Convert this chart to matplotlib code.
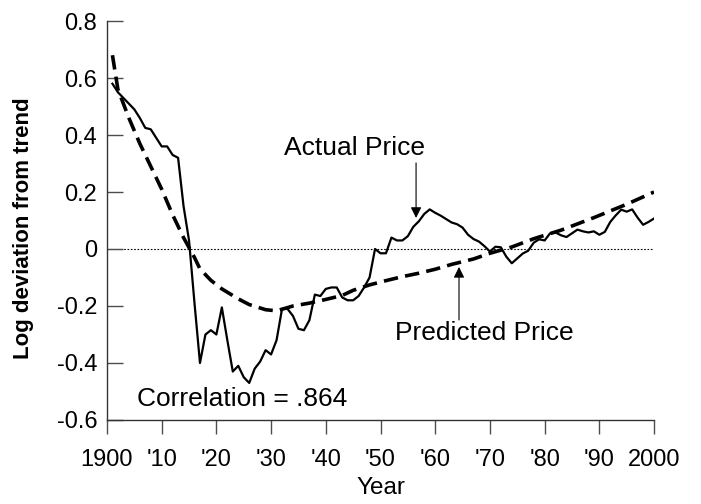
import matplotlib
matplotlib.use("Agg")
import matplotlib.pyplot as plt

plt.rcParams['font.family'] = ['Liberation Sans', 'DejaVu Sans']

# actual price, log deviation from trend (annual)
actual_years = list(range(1901, 2001))
actual_vals = [0.58, 0.55, 0.53, 0.51, 0.49, 0.46, 0.425, 0.42, 0.39, 0.36,
               0.36, 0.33, 0.32, 0.15, 0.03, -0.19, -0.40, -0.30, -0.285, -0.30,
               -0.205, -0.32, -0.43, -0.41, -0.45, -0.47, -0.42, -0.395, -0.355, -0.37,
               -0.32, -0.21, -0.21, -0.235, -0.28, -0.285, -0.25, -0.16, -0.165, -0.14,
               -0.135, -0.135, -0.17, -0.18, -0.18, -0.165, -0.135, -0.10, 0.0, -0.015,
               -0.015, 0.04, 0.03, 0.03, 0.045, 0.078, 0.097, 0.123, 0.139, 0.127,
               0.117, 0.105, 0.093, 0.087, 0.075, 0.05, 0.035, 0.026, 0.01, -0.009,
               0.008, 0.006, -0.027, -0.05, -0.033, -0.016, -0.006, 0.022, 0.034, 0.03,
               0.055, 0.058, 0.048, 0.042, 0.055, 0.068, 0.062, 0.058, 0.062, 0.05,
               0.06, 0.095, 0.118, 0.138, 0.131, 0.139, 0.11, 0.085, 0.095, 0.107]

# predicted price (smooth)
pred_years = [1901, 1902, 1904, 1906, 1908, 1910, 1912, 1914, 1916, 1917, 1919, 1921,
              1924, 1926, 1929, 1931, 1934, 1937, 1940, 1943, 1945, 1948, 1951, 1954,
              1957, 1960, 1963, 1967, 1970, 1974, 1978, 1983, 1989, 1995, 2000]
pred_vals = [0.68, 0.56, 0.46, 0.37, 0.29, 0.21, 0.12, 0.04, -0.03, -0.07, -0.11, -0.14,
             -0.175, -0.195, -0.213, -0.217, -0.20, -0.19, -0.177, -0.163, -0.145, -0.126, -0.111, -0.097,
             -0.085, -0.071, -0.054, -0.035, -0.015, 0.007, 0.036, 0.066, 0.11, 0.157, 0.20]

xticks = [1900, 1910, 1920, 1930, 1940, 1950, 1960, 1970, 1980, 1990, 2000]
xlabels = ['1900', "'10", "'20", "'30", "'40", "'50", "'60", "'70", "'80", "'90", '2000']
yticks = [-0.6, -0.4, -0.2, 0, 0.2, 0.4, 0.6, 0.8]
ylabels = ['-0.6', '-0.4', '-0.2', '0', '0.2', '0.4', '0.6', '0.8']

fig = plt.figure(figsize=(7.01, 5.04), dpi=100)
ax = fig.add_axes([0.1526, 0.1667, 0.7804, 0.7916])

ax.axhline(0, color='black', lw=0.8, linestyle=(0, (1.5, 1.5)), zorder=1)
ax.plot(actual_years, actual_vals, color='black', lw=1.6, zorder=3)
ax.plot(pred_years, pred_vals, color='black', lw=2.6, linestyle=(0, (4, 2)), zorder=2)

ax.set_xlim(1900, 2000)
ax.set_ylim(-0.6, 0.8)
ax.set_xticks(xticks)
ax.set_xticklabels(xlabels, fontsize=17)
ax.set_yticks(yticks)
ax.set_yticklabels(ylabels, fontsize=17)
ax.tick_params(axis='x', direction='out', length=10, width=1, color='0.3', pad=11)
ax.tick_params(axis='y', direction='in', length=11.5, width=1, color='0.3', pad=7)
for s in ['top', 'right']:
    ax.spines[s].set_visible(False)
for s in ['left', 'bottom']:
    ax.spines[s].set_linewidth(1)
    ax.spines[s].set_color('0.2')

ax.set_xlabel('Year', fontsize=17.5, labelpad=4)
ax.set_ylabel('Log deviation from trend', fontsize=16, fontweight='bold')
ax.yaxis.set_label_coords(-0.133, 0.481)

ax.annotate('', xy=(1956.5, 0.109), xytext=(1956.5, 0.302),
            arrowprops=dict(arrowstyle='-|>', color='black', lw=0.8, mutation_scale=16,
                            shrinkA=0, shrinkB=0))
ax.text(1945.2, 0.354, 'Actual Price', fontsize=19, ha='center', va='center')

ax.annotate('', xy=(1964.35, -0.063), xytext=(1964.35, -0.249),
            arrowprops=dict(arrowstyle='-|>', color='black', lw=0.8, mutation_scale=16,
                            shrinkA=0, shrinkB=0))
ax.text(1968.9, -0.295, 'Predicted Price', fontsize=19, ha='center', va='center')

ax.text(1924.7, -0.526, 'Correlation = .864', fontsize=19, ha='center', va='center')

fig.savefig('out.png', dpi=100)
